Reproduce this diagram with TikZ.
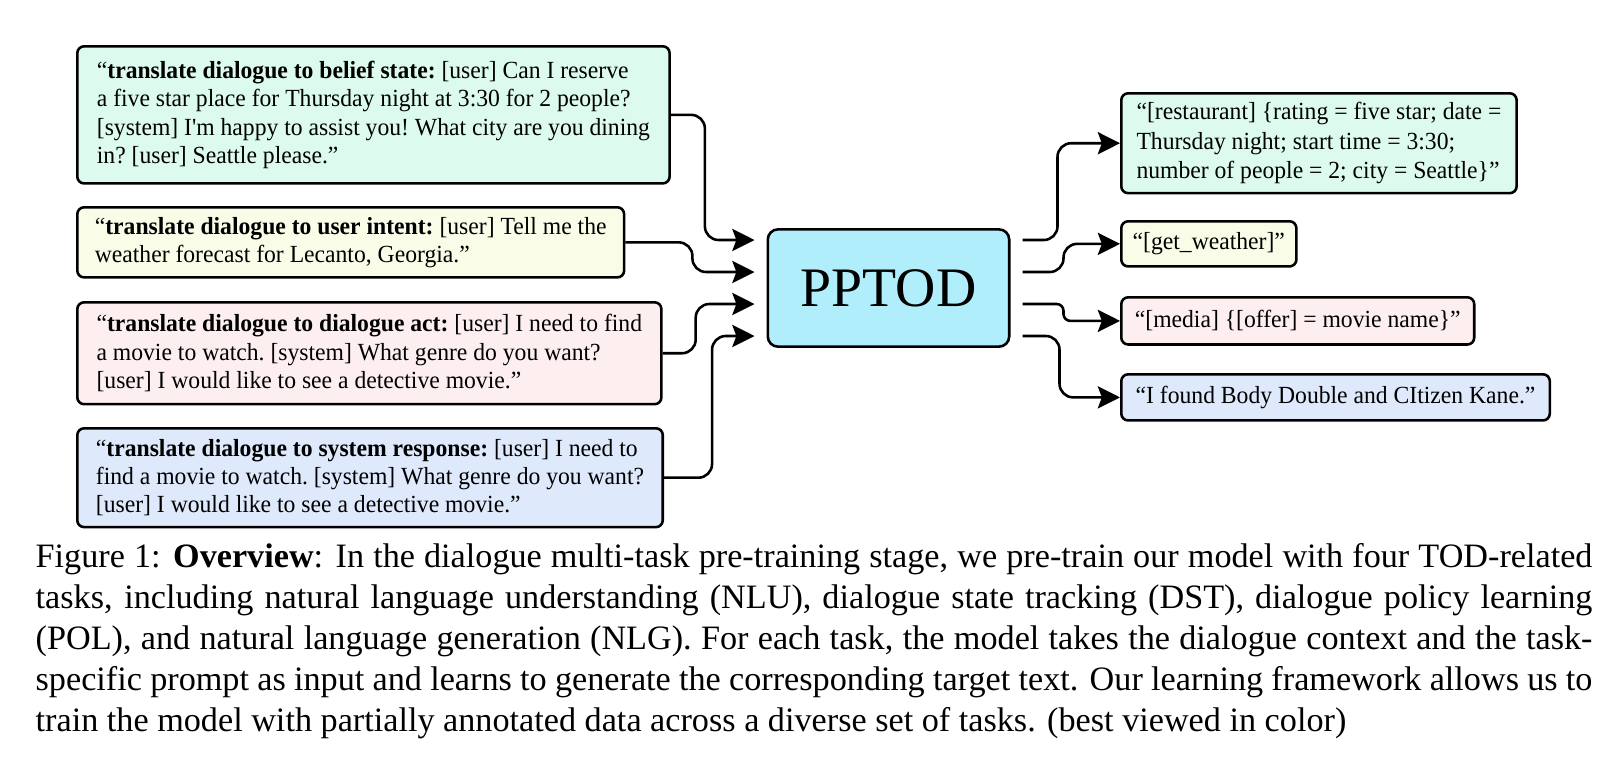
\documentclass[tikz,border=0pt]{standalone}
\usepackage{fontspec}
\setmainfont{Liberation Serif}
\newfontfamily\figfont[FakeStretch=0.96]{Liberation Serif}
\usepackage{tikz}
\usetikzlibrary{arrows.meta, positioning, calc}

\definecolor{beliefgreen}{RGB}{220,251,238}
\definecolor{intentyellow}{RGB}{249,253,232}
\definecolor{actpink}{RGB}{253,238,240}
\definecolor{respblue}{RGB}{222,233,251}
\definecolor{pptodcyan}{RGB}{176,238,252}

\tikzset{
    prompt/.style={draw, line width=0.75pt, rounded corners=2pt, anchor=north west, align=left,
        inner xsep=3pt, inner ysep=2pt, font=\figfont\frenchspacing\fontsize{7.2}{8.3}\selectfont},
    target/.style={prompt, font=\figfont\frenchspacing\fontsize{7.2}{8.7}\selectfont},
    link/.style={-{Stealth[length=6.5pt, width=6.5pt, inset=1.2pt]}, line width=0.75pt, rounded corners=4pt},
}

\begin{document}
\begin{tikzpicture}[x=0.2924pt, y=-0.2924pt]
    \useasboundingbox (0,0) rectangle (1622,776);
    % inputs
    \node[prompt, fill=beliefgreen, minimum width=173.2pt, minimum height=40.1pt] (belief) at (76,45)
        {“\textbf{translate dialogue to belief state:} [user] Can I reserve\\ a five star place for Thursday night at 3:30 for 2 people?\\{}[system] I'm happy to assist you! What city are you dining\\ in? [user] Seattle please.”};
    \node[prompt, fill=intentyellow, minimum width=159.9pt, minimum height=20.5pt] (intent) at (76,206)
        {“\textbf{translate dialogue to user intent:} [user] Tell me the\\ weather forecast for Lecanto, Georgia.”};
    \node[prompt, fill=actpink, minimum width=170.8pt, minimum height=29.8pt] (act) at (76,301)
        {“\textbf{translate dialogue to dialogue act:} [user] I need to find\\ a movie to watch. [system] What genre do you want?\\{}[user] I would like to see a detective movie.”};
    \node[prompt, fill=respblue, minimum width=171.2pt, minimum height=28.9pt] (response) at (76,427)
        {“\textbf{translate dialogue to system response:} [user] I need to\\ find a movie to watch. [system] What genre do you want?\\{}[user] I would like to see a detective movie.”};
    % model
    \node[draw, fill=pptodcyan, line width=0.75pt, rounded corners=3pt, minimum width=70.6pt, minimum height=34.3pt,
        font=\fontsize{16.3}{18}\selectfont] (pptod) at (888.5,288) {PPTOD};
    % outputs
    \node[target, fill=beliefgreen, minimum width=115.6pt, minimum height=29.2pt] (state) at (1120,92)
        {“[restaurant] \{rating = five star; date =\\ Thursday night; start time = 3:30;\\ number of people = 2; city = Seattle\}”};
    \node[target, fill=intentyellow, minimum width=51.2pt, minimum height=13.2pt] (intentout) at (1120,220)
        {“[get\_weather]”};
    \node[target, fill=actpink, minimum width=103.2pt, minimum height=13.8pt] (actout) at (1120,296)
        {“[media] \{[offer] = movie name\}”};
    \node[target, fill=respblue, minimum width=125.3pt, minimum height=13.5pt] (respout) at (1120,373)
        {“I found Body Double and CItizen Kane.”};
    \coordinate (in1) at ($(pptod.west)+(-12,-48)$);
    \coordinate (in2) at ($(pptod.west)+(-12,-16)$);
    \coordinate (in3) at ($(pptod.west)+(-12,16)$);
    \coordinate (in4) at ($(pptod.west)+(-12,48)$);
    \coordinate (out1) at ($(pptod.east)+(12,-48)$);
    \coordinate (out2) at ($(pptod.east)+(12,-16)$);
    \coordinate (out3) at ($(pptod.east)+(12,16)$);
    \coordinate (out4) at ($(pptod.east)+(12,48)$);
    \draw[link] (belief.east) -- ++(34,0) |- (in1);
    \draw[link] (intent.east) -- ++(67,0) |- (in2);
    \draw[link] (act.east) -- ++(33,0) |- (in3);
    \draw[link] (response.east) -- ++(48,0) |- (in4);
    \draw[link] (out1) -- ++(35,0) |- (state.west);
    \draw[link] (out2) -- ++(41,0) |- (intentout.west);
    \draw[link, rounded corners=2pt] (out3) -- ++(41,0) |- (actout.west);
    \draw[link] (out4) -- ++(37,0) |- (respout.west);
    % caption
    \node[anchor=base west, text width=455.2pt, align=justify, inner sep=0pt, font=\fontsize{10}{12}\selectfont] (caption) at (35,567)
        {Figure 1: \textbf{Overview}: In the dialogue multi-task pre-training stage, we pre-train our model with four TOD-related\linebreak
        tasks, including natural language understanding (NLU), dialogue state tracking (DST), dialogue policy learning\linebreak
        (POL), and natural language generation (NLG). For each task, the model takes the dialogue context and the task-\linebreak
        specific prompt as input and learns to generate the corresponding target text. Our learning framework allows us to\linebreak
        train the model with partially annotated data across a diverse set of tasks. (best viewed in color)};
\end{tikzpicture}
\end{document}
